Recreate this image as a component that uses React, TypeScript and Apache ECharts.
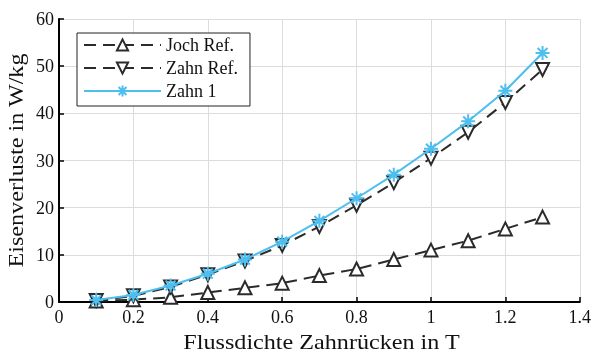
import React, { useEffect, useRef } from "react";
import * as echarts from "echarts";

const fluxDensity = [0.1, 0.2, 0.3, 0.4, 0.5, 0.6, 0.7, 0.8, 0.9, 1.0, 1.1, 1.2, 1.3];
const jochRef = [0.2, 0.5, 1.0, 2.0, 3.0, 4.0, 5.6, 7.0, 9.0, 11.0, 13.0, 15.5, 18.0];
const zahnRef = [0.3, 1.3, 3.2, 5.8, 8.7, 12.0, 16.0, 20.5, 25.3, 30.5, 36.0, 42.3, 49.3];
const zahn1 = [0.4, 1.5, 3.5, 6.0, 9.0, 12.8, 17.2, 22.0, 27.0, 32.5, 38.3, 44.8, 52.8];

const xTitle = "Flussdichte Zahnrücken in T";
const yTitle = "Eisenverluste in W/kg";

const FONT = "Liberation Serif";
const DARK = "#2b2b2b";
const BLUE = "#4dbeee";
const TEXT = "#111";

const GRID = { left: 59, right: 12, top: 19, bottom: 51 };
const W = 594;
const H = 353;

// eight-armed star marker (plus and cross)
const asterisk = "path://M0,-10L0,10M-10,0L10,0M-7,-7L7,7M-7,7L7,-7";

const pair = (ys: number[]) => fluxDensity.map((x, i) => [x, ys[i]]);

export default function App() {
  const ref = useRef<HTMLDivElement>(null);
  useEffect(() => {
    if (!ref.current) return;
    const chart = echarts.init(ref.current, undefined, { renderer: "svg" });
    const dashedSeries = (name: string, data: number[], rotate: number) => ({
      name,
      type: "line",
      data: pair(data),
      symbol: "triangle",
      symbolRotate: rotate,
      symbolSize: 13,
      showAllSymbol: true,
      lineStyle: { color: DARK, width: 2, type: [12, 7] },
      itemStyle: { color: "#fff", borderColor: DARK, borderWidth: 2 },
      z: 2,
    });
    const plotLeft = GRID.left;
    const plotRight = W - GRID.right;
    const plotTop = GRID.top;
    const plotBottom = H - GRID.bottom;
    chart.setOption({
      animation: false,
      textStyle: { fontFamily: FONT },
      grid: GRID,
      legend: {
        left: 77,
        top: 33,
        orient: "vertical",
        backgroundColor: "#fff",
        borderColor: "#222",
        borderWidth: 1,
        padding: [3, 12, 6, 6],
        itemGap: 5,
        itemWidth: 77,
        itemHeight: 14,
        textStyle: { fontFamily: FONT, fontSize: 18, color: TEXT },
        data: ["Joch Ref.", "Zahn Ref.", "Zahn 1"],
      },
      graphic: [
        {
          type: "text",
          x: (plotLeft + plotRight) / 2 + 1,
          y: 342,
          scaleX: 1.15,
          style: {
            text: xTitle,
            fontFamily: FONT,
            fontSize: 21,
            fill: TEXT,
            align: "center",
            verticalAlign: "middle",
          },
        },
        {
          type: "text",
          x: 16,
          y: (plotTop + plotBottom) / 2,
          rotation: Math.PI / 2,
          scaleX: 1.15,
          style: {
            text: yTitle,
            fontFamily: FONT,
            fontSize: 21,
            fill: TEXT,
            align: "center",
            verticalAlign: "middle",
          },
        },
      ],
      xAxis: {
        type: "value",
        min: 0,
        max: 1.4,
        interval: 0.2,
        axisLine: { lineStyle: { color: "#000", width: 2 } },
        axisTick: { inside: true, length: 5, lineStyle: { color: "#000", width: 1.5 } },
        axisLabel: { fontFamily: FONT, fontSize: 18, color: TEXT, margin: 6 },
        splitLine: { show: true, lineStyle: { color: "#dcdcdc", width: 1 } },
      },
      yAxis: {
        type: "value",
        min: 0,
        max: 60,
        interval: 10,
        axisLine: { show: true, lineStyle: { color: "#000", width: 2 } },
        axisTick: { show: true, inside: true, length: 5, lineStyle: { color: "#000", width: 1.5 } },
        axisLabel: { fontFamily: FONT, fontSize: 18, color: TEXT, margin: 5 },
        splitLine: { show: true, lineStyle: { color: "#dcdcdc", width: 1 } },
      },
      series: [
        dashedSeries("Joch Ref.", jochRef, 0),
        dashedSeries("Zahn Ref.", zahnRef, 180),
        {
          name: "Zahn 1",
          type: "line",
          data: pair(zahn1),
          symbol: asterisk,
          symbolSize: 14,
          lineStyle: { color: BLUE, width: 2 },
          itemStyle: { color: BLUE, borderColor: BLUE, borderWidth: 2 },
          z: 3,
        },
      ],
    });
    return () => chart.dispose();
  }, []);
  return (
    <div
      ref={ref}
      style={{ position: "fixed", left: 0, top: 0, width: W, height: H }}
    />
  );
}
